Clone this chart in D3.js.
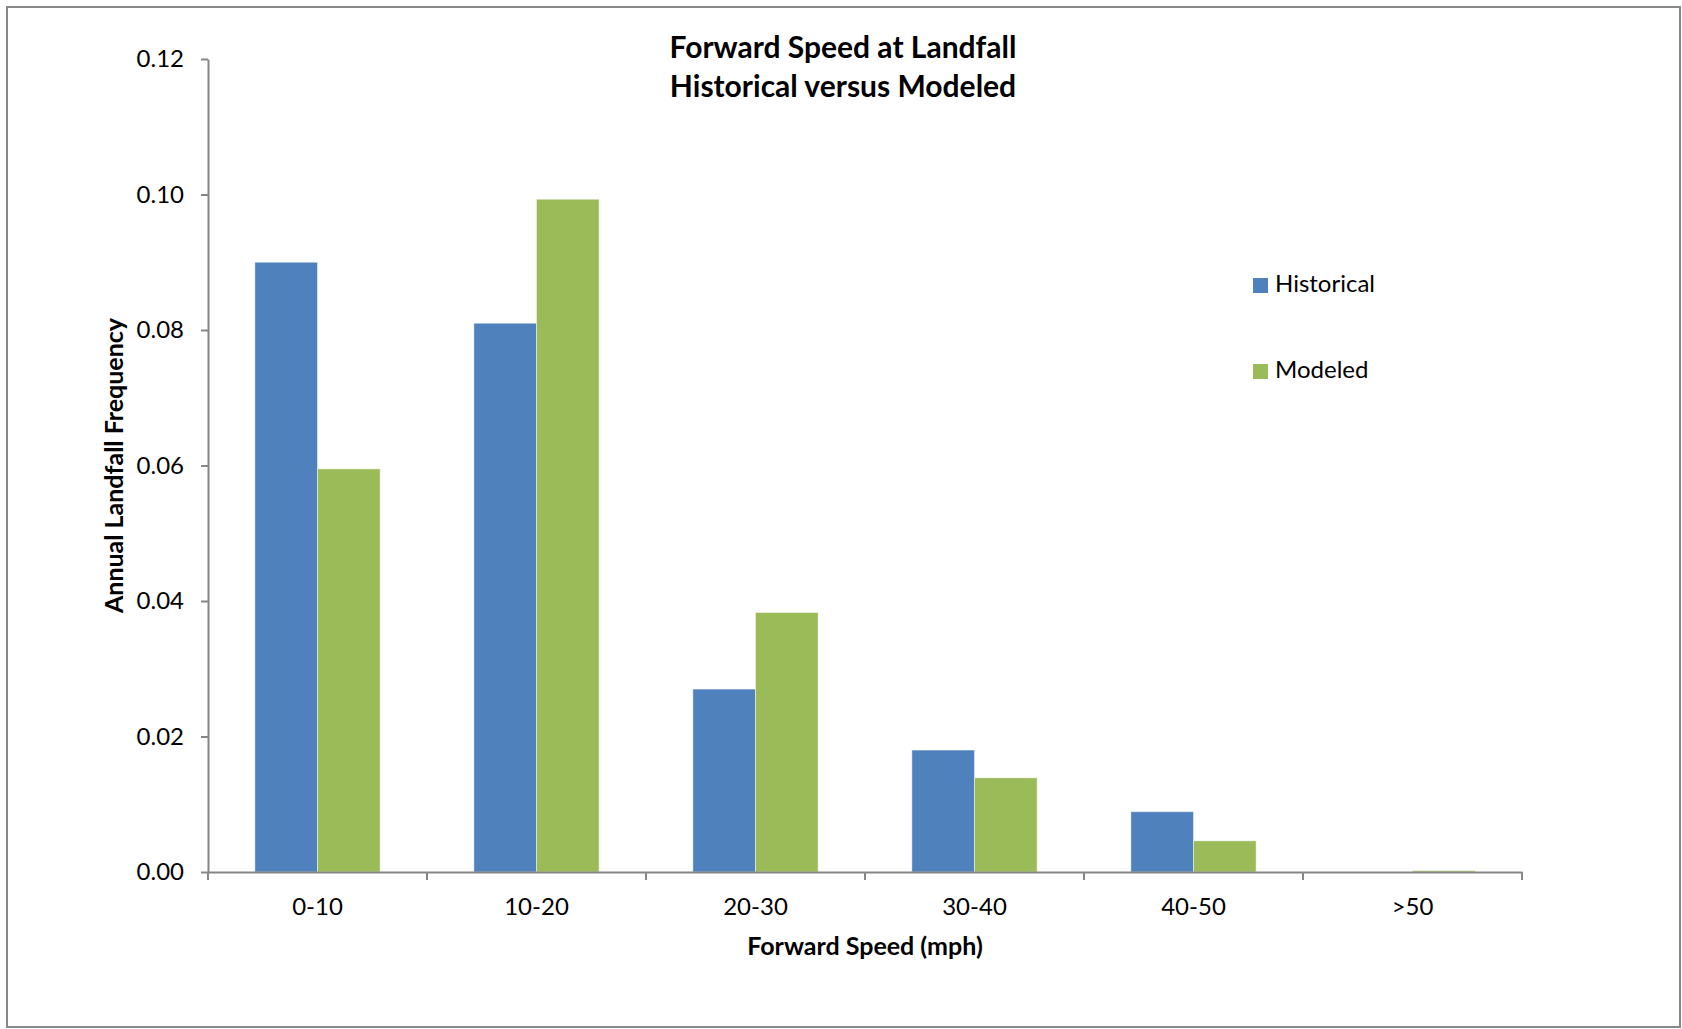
<!DOCTYPE html>
<html>
<head>
<meta charset="utf-8">
<script src="https://cdn.jsdelivr.net/npm/d3@7"></script>
<style>
    body { margin: 0; background: #fff; }
    text { font-family: Lato, "Open Sans", sans-serif; fill: #000; }
    .axis path, .axis line { stroke: #868686; stroke-width: 2; }
    .axis text { font-size: 24px; }
</style>
</head>
<body>
<div id="chart"></div>
<script>
// Chart data
const categories = ["0-10", "10-20", "20-30", "30-40", "40-50", ">50"];
const historical = [0.090, 0.081, 0.027, 0.018, 0.0089, 0.0];
const modeled = [0.0595, 0.0993, 0.0383, 0.0139, 0.0046, 0.0002];
const yTicks = [0, 0.02, 0.04, 0.06, 0.08, 0.10, 0.12];
const seriesNames = ["Historical", "Modeled"];
const colors = { "Historical": "#4F81BD", "Modeled": "#9BBB59" };

const W = 1682, H = 1029;
const margin = { top: 59, right: 160, bottom: 157, left: 208 };
const width = W - margin.left - margin.right;
const height = H - margin.top - margin.bottom;

const svg = d3.select("#chart").append("svg")
    .attr("width", W)
    .attr("height", H);

// outer chart border
svg.append("rect")
    .attr("x", 7).attr("y", 7)
    .attr("width", 1673).attr("height", 1020)
    .attr("fill", "none")
    .attr("stroke", "#888")
    .attr("stroke-width", 2);

const g = svg.append("g")
    .attr("transform", "translate(" + margin.left + "," + margin.top + ")");

// scales
const x0 = d3.scaleBand()
    .domain(categories)
    .range([0, width])
    .paddingInner(0.428)
    .paddingOuter(0.214);

const x1 = d3.scaleBand()
    .domain(seriesNames)
    .range([0, x0.bandwidth()]);

const y = d3.scaleLinear()
    .domain([0, 0.12])
    .range([height, 0]);

const rows = categories.map((c, i) => ({
    category: c,
    values: [
        { key: "Historical", value: historical[i] },
        { key: "Modeled", value: modeled[i] }
    ]
}));

// bars
const groups = g.selectAll(".group")
    .data(rows)
    .enter().append("g")
    .attr("class", "group")
    .attr("transform", d => "translate(" + x0(d.category) + ",0)");

groups.selectAll("rect")
    .data(d => d.values)
    .enter().append("rect")
    .attr("x", d => x1(d.key))
    .attr("width", x1.bandwidth())
    .attr("y", d => y(d.value))
    .attr("height", d => height - y(d.value))
    .attr("fill", d => colors[d.key])
    .attr("stroke", "rgba(255,255,255,0.45)")
    .attr("stroke-width", 1);

// y axis
g.append("g")
    .attr("class", "axis y-axis")
    .call(d3.axisLeft(y).tickValues(yTicks).tickFormat(d3.format(".2f")).tickSizeInner(7).tickSizeOuter(0).tickPadding(17));

// x axis: ticks on category boundaries
const xAxis = g.append("g")
    .attr("class", "axis x-axis")
    .attr("transform", "translate(0," + height + ")")
    .call(d3.axisBottom(x0).tickSize(0).tickPadding(26));

const step = x0.step();
xAxis.selectAll(".boundary")
    .data(d3.range(categories.length + 1))
    .enter().append("line")
    .attr("class", "boundary")
    .attr("x1", i => i * step).attr("x2", i => i * step)
    .attr("y1", 0).attr("y2", 8);

// titles
const title = svg.append("text")
    .attr("text-anchor", "middle")
    .style("font-size", "30px")
    .style("font-weight", "bold");
title.append("tspan").attr("x", 843).attr("y", 58).text("Forward Speed at Landfall");
title.append("tspan").attr("x", 843).attr("y", 97).text("Historical versus Modeled");

svg.append("text")
    .attr("x", margin.left + width / 2)
    .attr("y", 955)
    .attr("text-anchor", "middle")
    .style("font-size", "25px")
    .style("font-weight", "bold")
    .text("Forward Speed (mph)");

svg.append("text")
    .attr("transform", "translate(123," + (margin.top + height / 2) + ") rotate(-90)")
    .attr("text-anchor", "middle")
    .style("font-size", "25px")
    .style("font-weight", "bold")
    .text("Annual Landfall Frequency");

// legend
const legend = svg.append("g")
    .attr("transform", "translate(1253,278)");

const legendItems = legend.selectAll(".legend-item")
    .data(seriesNames)
    .enter().append("g")
    .attr("class", "legend-item")
    .attr("transform", (d, i) => "translate(0," + i * 86 + ")");

legendItems.append("rect")
    .attr("width", 15)
    .attr("height", 15)
    .attr("fill", d => colors[d]);

legendItems.append("text")
    .attr("x", 22)
    .attr("y", 8)
    .attr("dominant-baseline", "middle")
    .style("font-size", "24px")
    .text(d => d);
</script>
</body>
</html>
